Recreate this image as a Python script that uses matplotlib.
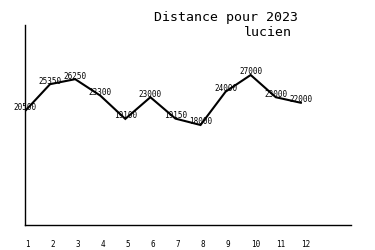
import matplotlib
matplotlib.use("Agg")
import matplotlib.pyplot as plt

months = [1, 2, 3, 4, 5, 6, 7, 8, 9, 10, 11, 12]
distances = [20500, 25350, 26250, 23300, 19100, 23000, 19150, 18000, 24000, 27000, 23000, 22000]
tick_labels = [str(m) for m in months]
title = "Distance pour 2023"
subtitle = "lucien"

plt.rcParams['font.family'] = ['DejaVu Sans Mono']

fig = plt.figure(figsize=(3.75, 2.5), dpi=100)
ax = fig.add_axes([25/375, 0.1, 326/375, 0.8])
ax.plot(months, distances, color='black', lw=1.5, solid_joinstyle='miter')
for m, d in zip(months, distances):
    ax.annotate(str(d), (m, d), xytext=(0, -1), textcoords='offset points',
                ha='center', va='bottom', fontsize=5.5, color='black')
ax.set_xlim(1, 14)
ax.set_ylim(0, 36000)
ax.set_xticks(months)
ax.set_xticklabels(tick_labels, fontsize=5.5, ha='left')
ax.set_yticks([])
ax.tick_params(axis='x', length=0, pad=11)
for s in ['top', 'right']:
    ax.spines[s].set_visible(False)
for s in ['left', 'bottom']:
    ax.spines[s].set_linewidth(1.0)

fig.text(298/375, 1 - 18/250, title, ha='right', va='center', fontsize=9.5)
fig.text(292/375, 1 - 33/250, subtitle, ha='right', va='center', fontsize=9.5)

fig.savefig("out.png", dpi=100)
